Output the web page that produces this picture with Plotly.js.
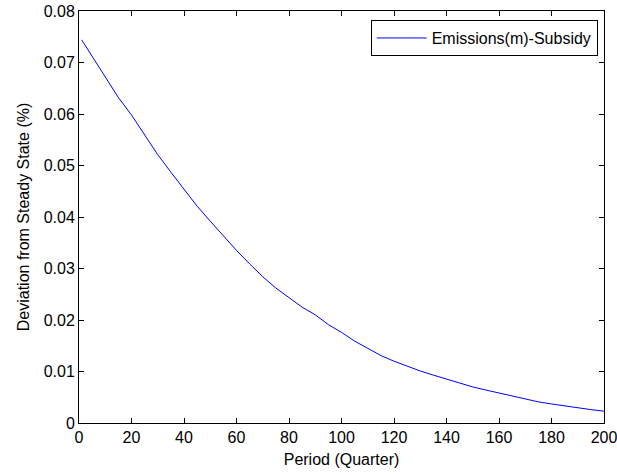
<!DOCTYPE html>
<html>
<head>
<meta charset="utf-8">
<script src="https://cdn.plot.ly/plotly-3.0.1.min.js"></script>
<style>html,body{margin:0;padding:0;background:#fff;}#chart{width:617px;height:475px;}</style>
</head>
<body>
<div id="chart"></div>
<script>
const periods = [1,5,10,15,20,25,30,35,40,45,50,55,60,65,70,75,80,85,90,95,100,105,110,115,120,125,130,135,140,145,150,155,160,165,170,175,180,185,190,195,200];
const emissionsSubsidy = [0.0744,0.0712,0.0671,0.0632,0.0598,0.0560,0.0521,0.0487,0.0453,0.0421,0.0392,0.0363,0.0335,0.0309,0.0284,0.0262,0.0244,0.0225,0.0210,0.0191,0.0176,0.0159,0.0145,0.0131,0.0120,0.0110,0.0101,0.0093,0.0085,0.0077,0.0070,0.0064,0.0058,0.0052,0.0046,0.0041,0.0037,0.0033,0.0029,0.0026,0.0023];
const seriesName = 'Emissions(m)-Subsidy';
const xTicks = [0,20,40,60,80,100,120,140,160,180,200];
const yTicks = [0,0.01,0.02,0.03,0.04,0.05,0.06,0.07,0.08];
const yTickText = ['0','0.01','0.02','0.03','0.04','0.05','0.06','0.07','0.08'];

const font = {family: 'Liberation Sans, Arial, sans-serif', size: 16, color: '#000'};
const trace = {
  x: periods, y: emissionsSubsidy, type: 'scatter', mode: 'lines',
  name: seriesName, line: {color: '#0000ff', width: 1}
};
const axisCommon = {
  showline: true, mirror: 'ticks', linecolor: '#000', linewidth: 1,
  ticks: 'inside', ticklen: 5, tickcolor: '#000', tickwidth: 1,
  showgrid: false, zeroline: false, tickfont: font, ticklabeloverflow: 'allow'
};
const layout = {
  width: 617, height: 475,
  margin: {l: 79, r: 13, t: 11, b: 52},
  paper_bgcolor: '#fff', plot_bgcolor: '#fff',
  font: font,
  showlegend: true,
  legend: {x: 0.988, y: 0.978, xanchor: 'right', yanchor: 'top',
           bordercolor: '#000', borderwidth: 1, bgcolor: '#fff', font: font,
           itemwidth: 50},
  xaxis: Object.assign({}, axisCommon, {
    range: [0, 200], tickmode: 'array', tickvals: xTicks,
    title: {text: 'Period (Quarter)', font: font, standoff: 8}
  }),
  yaxis: Object.assign({}, axisCommon, {
    range: [0, 0.08], tickmode: 'array', tickvals: yTicks, ticktext: yTickText,
    title: {text: 'Deviation from Steady State (%)', font: font, standoff: 10}
  })
};
Plotly.newPlot('chart', [trace], layout, {displayModeBar: false, staticPlot: true});
</script>
</body>
</html>
